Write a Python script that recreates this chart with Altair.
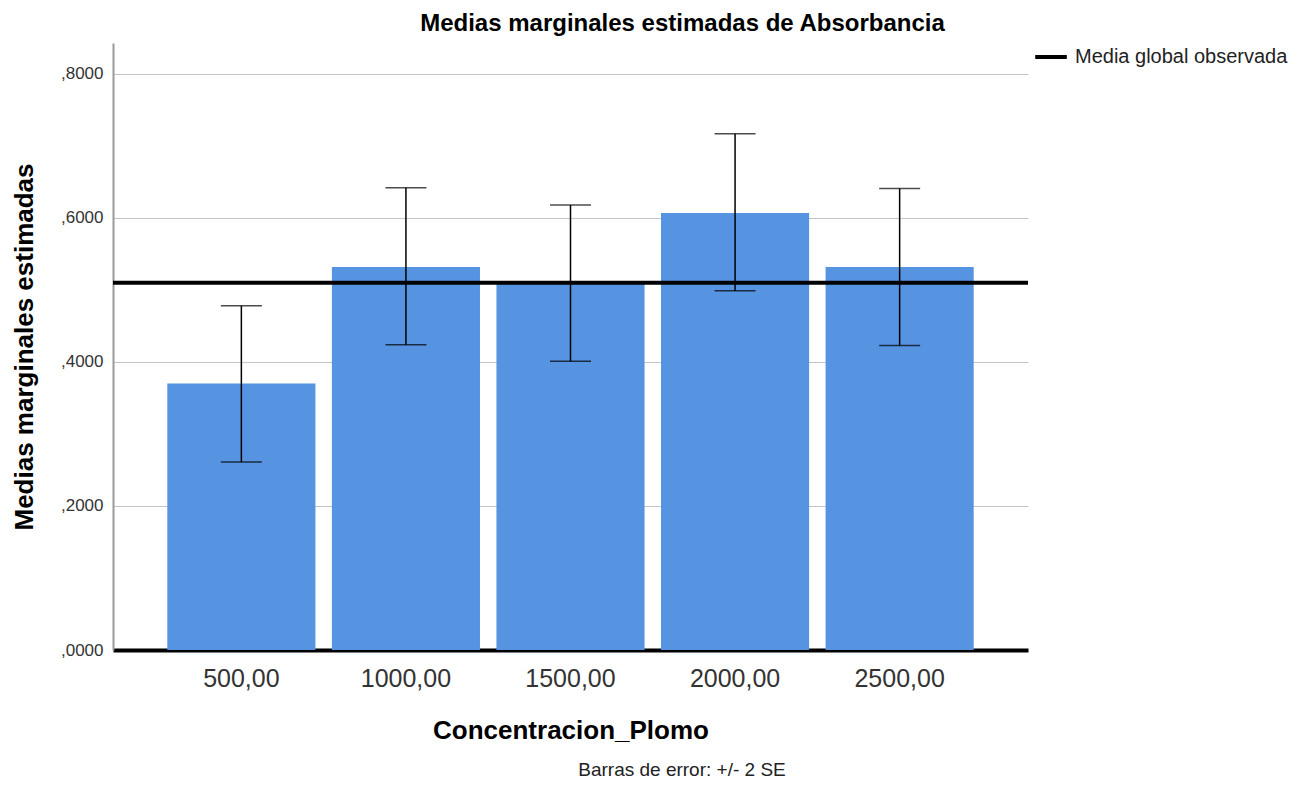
import altair as alt
import pandas as pd

categories = ["500,00", "1000,00", "1500,00", "2000,00", "2500,00"]
means = [0.370, 0.532, 0.510, 0.607, 0.532]
lower = [0.261, 0.424, 0.401, 0.499, 0.423]
upper = [0.478, 0.642, 0.618, 0.717, 0.641]
grand_mean = 0.510
legend_label = "Media  global observada"
footnote = "Barras de error: +/- 2 SE"

df = pd.DataFrame({"cat": categories, "mean": means, "lo": lower, "hi": upper})
dm = pd.DataFrame({"m": [grand_mean], "lab": [legend_label]})
dn = pd.DataFrame({"t": [footnote]})

FONT = "Liberation Sans"
W, H = 915, 607

yscale = alt.Scale(domain=[0, 0.843], nice=False, zero=True)
xscale = alt.Scale(domain=categories, paddingInner=0.1, paddingOuter=0.33)

bars = alt.Chart(df).mark_bar(color="#5694E2").encode(
    x=alt.X("cat:N", scale=xscale, sort=categories,
            axis=alt.Axis(title="Concentracion_Plomo", labelAngle=0, ticks=False,
                          labelFontSize=25, labelColor="#333", labelPadding=16,
                          titleFontSize=26, titleFontWeight="bold", titlePadding=26,
                          titleColor="#000", domainColor="#000", domainWidth=4)),
    y=alt.Y("mean:Q", scale=yscale,
            axis=alt.Axis(title="Medias marginales estimadas", values=[0, 0.2, 0.4, 0.6, 0.8],
                          labelExpr="replace(format(datum.value, '.4f'), '0.', ',')",
                          ticks=False, labelFontSize=17, labelColor="#333", labelPadding=10,
                          titleFontSize=26, titleFontWeight="bold", titlePadding=23,
                          titleColor="#000", domainColor="#999", domainWidth=2,
                          grid=True, gridColor="#c4c4c4", gridWidth=1)),
)

err = alt.Chart(df).mark_rule(color="#000", strokeWidth=1.5).encode(
    x=alt.X("cat:N", scale=xscale, sort=categories),
    y=alt.Y("lo:Q", scale=yscale),
    y2="hi:Q",
)
cap_lo = alt.Chart(df).mark_tick(color="#000", thickness=1.5, size=41, orient="horizontal").encode(
    x=alt.X("cat:N", scale=xscale, sort=categories),
    y=alt.Y("lo:Q", scale=yscale),
)
cap_hi = alt.Chart(df).mark_tick(color="#000", thickness=1.5, size=41, orient="horizontal").encode(
    x=alt.X("cat:N", scale=xscale, sort=categories),
    y=alt.Y("hi:Q", scale=yscale),
)

mean_rule = alt.Chart(dm).mark_rule(strokeWidth=4).encode(
    y=alt.Y("m:Q", scale=yscale),
    color=alt.Color("lab:N", scale=alt.Scale(range=["#000"]),
                    legend=alt.Legend(title=None, orient="none", legendX=920, legendY=-4,
                                      symbolType="stroke", symbolStrokeWidth=4, symbolSize=1000,
                                      labelFontSize=20, labelColor="#222", labelFont=FONT,
                                      labelLimit=0, labelOffset=6)),
)

note = alt.Chart(dn).mark_text(fontSize=19, color="#222", font=FONT, align="center", baseline="middle").encode(
    x=alt.value(569), y=alt.value(727), text="t:N"
)

chart = alt.layer(bars, err, cap_lo, cap_hi, mean_rule, note).properties(
    width=W, height=H,
    title=alt.TitleParams("Medias marginales estimadas de Absorbancia", fontSize=24,
                          fontWeight="bold", font=FONT, color="#000", anchor="middle",
                          dx=112, offset=3),
    autosize=alt.AutoSizeParams(type="none"),
    padding={"left": 105, "top": 35, "right": 278, "bottom": 132},
).configure(font=FONT).configure_view(stroke=None).configure_axis(labelFont=FONT, titleFont=FONT)

chart.save("out.html", embed_options={"renderer": "svg", "actions": False})
